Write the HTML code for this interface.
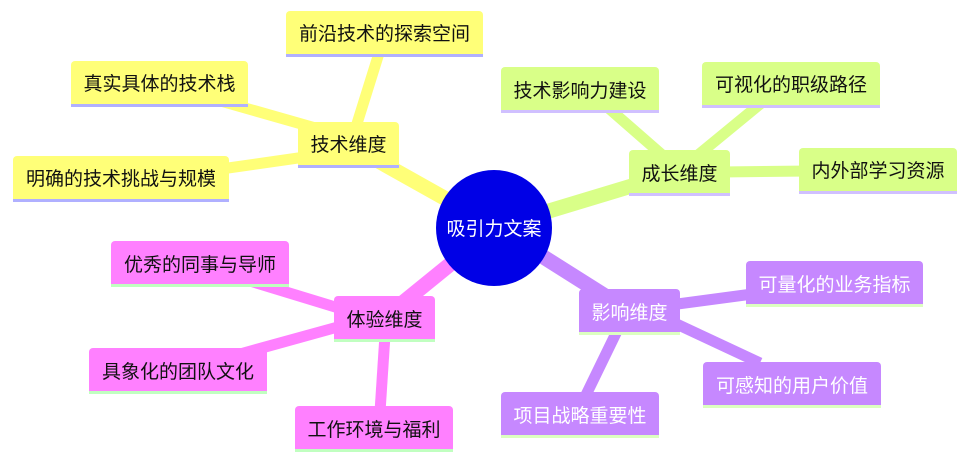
<!DOCTYPE html>
<html><head><meta charset="utf-8"><style>
html,body{margin:0;padding:0;background:#fff;width:967px;height:465px;overflow:hidden}
svg text{font-family:"Liberation Sans","Noto Sans CJK SC",sans-serif;font-size:19px}
</style></head><body>
<svg width="967" height="465" viewBox="0 0 967 465" xmlns="http://www.w3.org/2000/svg">
<g stroke-linecap="butt">
<line x1="496" y1="227" x2="348" y2="144" stroke="#ffff78" stroke-width="15"/>
<line x1="355" y1="130" x2="380" y2="50" stroke="#ffff78" stroke-width="11"/>
<line x1="340" y1="135" x2="210" y2="98" stroke="#ffff78" stroke-width="11"/>
<line x1="340" y1="152" x2="200" y2="172" stroke="#ffff78" stroke-width="11"/>
<line x1="496" y1="227" x2="678" y2="172" stroke="#d9ff88" stroke-width="15"/>
<line x1="668" y1="160" x2="605" y2="105" stroke="#d9ff88" stroke-width="11"/>
<line x1="692" y1="160" x2="765" y2="100" stroke="#d9ff88" stroke-width="11"/>
<line x1="720" y1="172" x2="810" y2="171" stroke="#d9ff88" stroke-width="11"/>
<line x1="496" y1="227" x2="629" y2="311" stroke="#c688ff" stroke-width="15"/>
<line x1="670" y1="305" x2="760" y2="293" stroke="#c688ff" stroke-width="11"/>
<line x1="668" y1="320" x2="760" y2="363" stroke="#c688ff" stroke-width="11"/>
<line x1="620" y1="325" x2="585" y2="397" stroke="#c688ff" stroke-width="11"/>
<line x1="496" y1="227" x2="384" y2="318" stroke="#ff80ff" stroke-width="15"/>
<line x1="345" y1="310" x2="250" y2="281" stroke="#ff80ff" stroke-width="11"/>
<line x1="345" y1="325" x2="240" y2="354" stroke="#ff80ff" stroke-width="11"/>
<line x1="385" y1="335" x2="380" y2="412" stroke="#ff80ff" stroke-width="11"/>
</g>
<g>
<path d="M286 55V15a4 4 0 0 1 4-4h189a4 4 0 0 1 4 4v40z" fill="#ffff78"/><rect x="286" y="54" width="197" height="3" fill="#b0b0ff"/>
<text x="384.5" y="40" text-anchor="middle" fill="#111">前沿技术的探索空间</text>
<path d="M71 105V65a4 4 0 0 1 4-4h169a4 4 0 0 1 4 4v40z" fill="#ffff78"/><rect x="71" y="104" width="177" height="3" fill="#b0b0ff"/>
<text x="159.5" y="90" text-anchor="middle" fill="#111">真实具体的技术栈</text>
<path d="M13 200V160a4 4 0 0 1 4-4h208a4 4 0 0 1 4 4v40z" fill="#ffff78"/><rect x="13" y="199" width="216" height="3" fill="#b0b0ff"/>
<text x="121" y="185" text-anchor="middle" fill="#111">明确的技术挑战与规模</text>
<path d="M298 166V126a4 4 0 0 1 4-4h93a4 4 0 0 1 4 4v40z" fill="#ffff78"/><rect x="298" y="165" width="101" height="3" fill="#b0b0ff"/>
<text x="348.5" y="151" text-anchor="middle" fill="#111">技术维度</text>

<path d="M501 111V71a4 4 0 0 1 4-4h150a4 4 0 0 1 4 4v40z" fill="#d9ff88"/><rect x="501" y="110" width="158" height="3" fill="#d0c0ff"/>
<text x="580" y="97" text-anchor="middle" fill="#111">技术影响力建设</text>
<path d="M702 106V66a4 4 0 0 1 4-4h170a4 4 0 0 1 4 4v40z" fill="#d9ff88"/><rect x="702" y="105" width="178" height="3" fill="#d0c0ff"/>
<text x="791" y="91" text-anchor="middle" fill="#111">可视化的职级路径</text>
<path d="M629 194V154a4 4 0 0 1 4-4h93a4 4 0 0 1 4 4v40z" fill="#d9ff88"/><rect x="629" y="193" width="101" height="3" fill="#d0c0ff"/>
<text x="679.5" y="180" text-anchor="middle" fill="#111">成长维度</text>
<path d="M799 192V152a4 4 0 0 1 4-4h150a4 4 0 0 1 4 4v40z" fill="#d9ff88"/><rect x="799" y="191" width="158" height="3" fill="#d0c0ff"/>
<text x="878" y="177" text-anchor="middle" fill="#111">内外部学习资源</text>

<path d="M579 333V293a4 4 0 0 1 4-4h93a4 4 0 0 1 4 4v40z" fill="#c688ff"/><rect x="579" y="332" width="101" height="3" fill="#dcffc0"/>
<text x="629.5" y="319" text-anchor="middle" fill="#fff">影响维度</text>
<path d="M746 305V265a4 4 0 0 1 4-4h169a4 4 0 0 1 4 4v40z" fill="#c688ff"/><rect x="746" y="304" width="177" height="3" fill="#dcffc0"/>
<text x="834.5" y="291" text-anchor="middle" fill="#fff">可量化的业务指标</text>
<path d="M703 406V366a4 4 0 0 1 4-4h170a4 4 0 0 1 4 4v40z" fill="#c688ff"/><rect x="703" y="405" width="178" height="3" fill="#dcffc0"/>
<text x="792" y="392" text-anchor="middle" fill="#fff">可感知的用户价值</text>
<path d="M501 436V396a4 4 0 0 1 4-4h150a4 4 0 0 1 4 4v40z" fill="#c688ff"/><rect x="501" y="435" width="158" height="3" fill="#dcffc0"/>
<text x="580" y="422" text-anchor="middle" fill="#fff">项目战略重要性</text>

<path d="M111 285V245a4 4 0 0 1 4-4h170a4 4 0 0 1 4 4v40z" fill="#ff80ff"/><rect x="111" y="284" width="178" height="3" fill="#c0ffc0"/>
<text x="200" y="271" text-anchor="middle" fill="#111">优秀的同事与导师</text>
<path d="M334 340V300a4 4 0 0 1 4-4h93a4 4 0 0 1 4 4v40z" fill="#ff80ff"/><rect x="334" y="339" width="101" height="3" fill="#c0ffc0"/>
<text x="384.5" y="326" text-anchor="middle" fill="#111">体验维度</text>
<path d="M89 392V352a4 4 0 0 1 4-4h170a4 4 0 0 1 4 4v40z" fill="#ff80ff"/><rect x="89" y="391" width="178" height="3" fill="#c0ffc0"/>
<text x="178" y="378" text-anchor="middle" fill="#111">具象化的团队文化</text>
<path d="M295 450V410a4 4 0 0 1 4-4h150a4 4 0 0 1 4 4v40z" fill="#ff80ff"/><rect x="295" y="449" width="158" height="3" fill="#c0ffc0"/>
<text x="374" y="436" text-anchor="middle" fill="#111">工作环境与福利</text>

<circle cx="494" cy="228" r="58" fill="#0000e6"/>
<text x="494" y="235" text-anchor="middle" fill="#fff">吸引力文案</text>
</g>
</svg>
</body></html>
